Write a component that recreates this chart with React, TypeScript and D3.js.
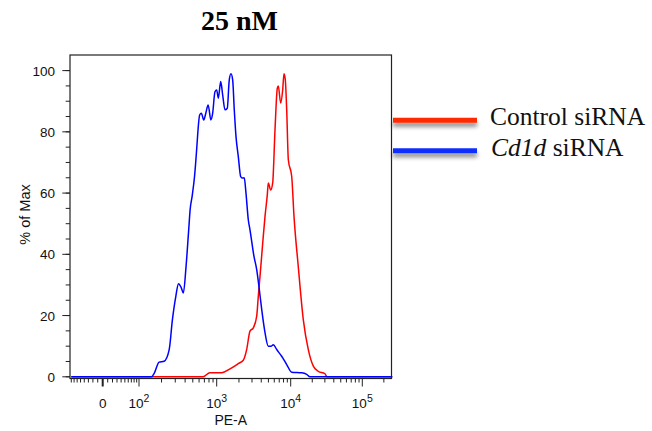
import React from "react";
import * as d3 from "d3";

// ---- data (PE-A value, % of Max) ----
const controlX = [-80, 673, 820, 1169, 1514, 1958, 2286, 2541, 2818, 3125, 3473, 3650, 3848, 4188, 4498, 4831, 4980, 5370, 5710, 6138, 6594, 6798, 7325, 7793, 8117, 8453, 8830, 9290, 10330, 11120, 12760, 14990, 17620, 20700, 24280, 30100, 32100, 262144];
const controlY = [0, 0, 1.3, 1.3, 2.6, 4.3, 5.4, 8.9, 14.9, 16, 19.8, 26.3, 32.8, 43.7, 52.4, 59.5, 63.3, 61, 63.3, 80.7, 94.3, 95, 89.4, 93.7, 99, 97, 87.2, 70.9, 65.4, 52.4, 36, 18.7, 8.9, 3.5, 1.8, 1, 0, 0];

const cd1dX = [-80, 148, 161, 186, 216, 251, 276, 305, 330, 355, 380, 411, 444, 463, 491, 526, 563, 580, 610, 641, 687, 728, 780, 845, 889, 951, 1000, 1051, 1133, 1205, 1295, 1390, 1479, 1560, 1644, 1728, 1823, 1958, 2110, 2245, 2358, 2488, 2673, 2818, 3191, 3473, 3767, 4057, 4498, 4980, 5417, 5821, 6471, 7553, 8830, 10330, 14250, 16700, 18600, 262144];
const cd1dY = [0, 0, 1.2, 4.8, 5.1, 8.9, 18.7, 26.3, 30.4, 29.3, 27.4, 36, 48, 54.6, 59, 65.4, 75.2, 80.1, 85.5, 86.1, 83.9, 86, 88.8, 83.9, 86, 93.1, 93.7, 91, 96.4, 92, 87.2, 87.7, 97, 99, 97, 87.2, 78.5, 72, 65.4, 64.9, 65, 60, 51.3, 48, 39.3, 35, 28.5, 22, 14.4, 10, 10, 10.5, 8.9, 6.7, 4, 1.5, 1.3, 0.8, 0, 0];

const xMajorTicks = [0, 100, 1000, 10000, 100000];
const xMajorLabels = ["0", "10|2", "10|3", "10|4", "10|5"];
const yTicks = [0, 20, 40, 60, 80, 100];
const yMinorTicks = d3.range(0, 101, 5);

const legendLabels = ["Control siRNA", "Cd1d siRNA"];

// ---- layout ----
const W = 652, H = 431;
const left = 70, right = 391.5, top = 55, bottom = 378.5;

// biexponential-like transform
const T = (v: number) => Math.asinh(v / 50) / Math.LN10;
// axis calibration: pixel offsets of 0, 10^2..10^5 from plot left
const calib = [32.7, 69, 146.7, 220.7, 292.3];
const xLin = d3.scaleLinear().domain(xMajorTicks.map(T)).range(calib.map((c) => left + c));
const x = (v: number) => xLin(T(v));
const y = d3.scaleLinear().domain([0, 100]).range([376.8, 70.6]);

const minorX: number[] = [];
for (let n = 1; n <= 5; n++) {
  for (let k = 1; k <= 9; k++) {
    const v = k * Math.pow(10, n);
    if (k !== 1 || n === 1) {
      minorX.push(v);
    }
    minorX.push(-v);
  }
}
const minorTicks = minorX.filter((v) => x(v) >= left + 0.5 && x(v) <= right - 0.5 && !xMajorTicks.includes(v));

const line = d3
  .line<[number, number]>()
  .x((d) => x(d[0]))
  .y((d) => y(d[1]))
  .curve(d3.curveMonotoneX);

const controlPts = controlX.map((v, i) => [v, controlY[i]] as [number, number]);
const cd1dPts = cd1dX.map((v, i) => [v, cd1dY[i]] as [number, number]);

const sans = "Liberation Sans, Arial, Helvetica, sans-serif";
const serif = "Liberation Serif, Times New Roman, serif";

export default function App() {
  return (
    <div style={{ position: "absolute", left: 0, top: 0 }}>
      <svg width={W} height={H} style={{ display: "block", background: "#fff" }}>
        <defs>
          <filter id="sh" x="-10%" y="-200%" width="120%" height="600%">
            <feDropShadow dx="0" dy="4" stdDeviation="2" floodColor="#000" floodOpacity="0.45" />
          </filter>
        </defs>
        <text x={239.5} y={30} textAnchor="middle" fontFamily={serif} fontWeight="bold" fontSize={28}>
          25 nM
        </text>

        {/* curves */}
        <path d={line(controlPts) || ""} fill="none" stroke="#ff0000" strokeWidth={1.5} />
        <path d={line(cd1dPts) || ""} fill="none" stroke="#0000ff" strokeWidth={1.5} />

        {/* frame */}
        <rect x={left} y={top} width={right - left} height={bottom - top} fill="none" stroke="#222" strokeWidth={1.2} />

        {/* y axis */}
        {yMinorTicks.map((t) => (
          <line key={"ym" + t} x1={left - 4.3} x2={left} y1={y(t)} y2={y(t)} stroke="#222" strokeWidth={1} />
        ))}
        {yTicks.map((t) => (
          <g key={"y" + t}>
            <line x1={left - 7.7} x2={left} y1={y(t)} y2={y(t)} stroke="#222" strokeWidth={1} />
            <text x={55} y={y(t) + 5} textAnchor="end" fontFamily={sans} fontSize={13.5} fill="#111">
              {t}
            </text>
          </g>
        ))}
        <text
          transform={`translate(30, 214.5) rotate(-90)`}
          textAnchor="middle"
          fontFamily={sans}
          fontSize={14.5}
          fill="#111"
        >
          % of Max
        </text>

        {/* x axis */}
        {minorTicks.map((v, i) => (
          <line key={"xm" + i} x1={x(v)} x2={x(v)} y1={bottom} y2={bottom + 4} stroke="#222" strokeWidth={1} />
        ))}
        {xMajorTicks.map((v, i) => {
          const [base, sup] = xMajorLabels[i].split("|");
          return (
            <g key={"x" + v}>
              <line x1={x(v)} x2={x(v)} y1={bottom} y2={bottom + 8} stroke="#222" strokeWidth={v === 0 ? 2 : 1} />
              <text x={x(v)} y={408} textAnchor="middle" fontFamily={sans} fontSize={13.5} fill="#111">
                {base}
                {sup && (
                  <tspan dy={-6.5} fontSize={10.5}>
                    {sup}
                  </tspan>
                )}
              </text>
            </g>
          );
        })}
        <text x={(left + right) / 2} y={425} textAnchor="middle" fontFamily={sans} fontSize={14} fill="#111">
          PE-A
        </text>

        {/* legend */}
        <g filter="url(#sh)">
          <line x1={393} x2={477} y1={120.3} y2={120.3} stroke="#ff2a00" strokeWidth={5} />
          <line x1={393} x2={477} y1={150.8} y2={150.8} stroke="#0a2dff" strokeWidth={5} />
        </g>
        <text x={490} y={125} fontFamily={serif} fontSize={25.5} fill="#111">
          {legendLabels[0]}
        </text>
        <text x={491} y={155.7} fontFamily={serif} fontSize={25.5} fill="#111">
          <tspan fontStyle="italic">{legendLabels[1].split(" ")[0]}</tspan>
          {" " + legendLabels[1].split(" ")[1]}
        </text>
      </svg>
    </div>
  );
}
